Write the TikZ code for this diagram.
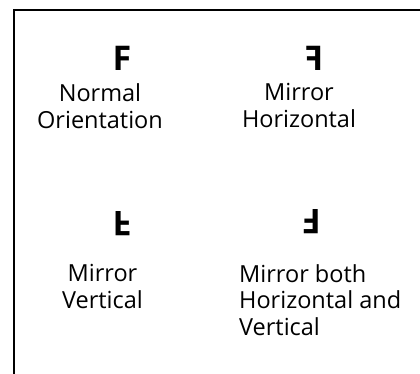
\documentclass[tikz,border=0pt]{standalone}
\usepackage{fontspec}
\setmainfont{Open Sans}
\newfontfamily\glyphfont{Open Sans}
\begin{document}
\begin{tikzpicture}[x=1pt,y=-1pt,
  letterglyph/.style={inner sep=0pt,font=\glyphfont\bfseries\fontsize{34}{34}\selectfont},
  labeltext/.style={inner sep=0pt,align=center,anchor=base,
    font=\fontsize{23.5}{26.5}\selectfont},
  frameline/.style={line width=2pt,draw=black}]
\useasboundingbox (0,0) rectangle (420,373);
\clip (0,0) rectangle (420,373);
\draw[frameline] (14,10) rectangle (440,400);
% the four letters
\node[letterglyph] (normalF) at (122,58) {F};
\node[letterglyph] (horizF) at (314,58) {\scalebox{-1}[1]{F}};
\node[letterglyph] (vertF) at (122,223.5) {\scalebox{1}[-1]{F}};
\node[letterglyph] (bothF) at (311.5,221.5) {\scalebox{-1}[-1]{F}};
% captions
\node[labeltext] (normaltext) at (100,128) {Normal\\Orientation};
\node[labeltext] (horiztext) at (299,127) {Mirror\\Horizontal};
\node[labeltext] (verttext) at (102.5,308) {Mirror\\Vertical};
\node[labeltext,align=left,anchor=base west] (bothtext) at (239,335)
  {Mirror both\\Horizontal and\\Vertical};
\end{tikzpicture}
\end{document}
